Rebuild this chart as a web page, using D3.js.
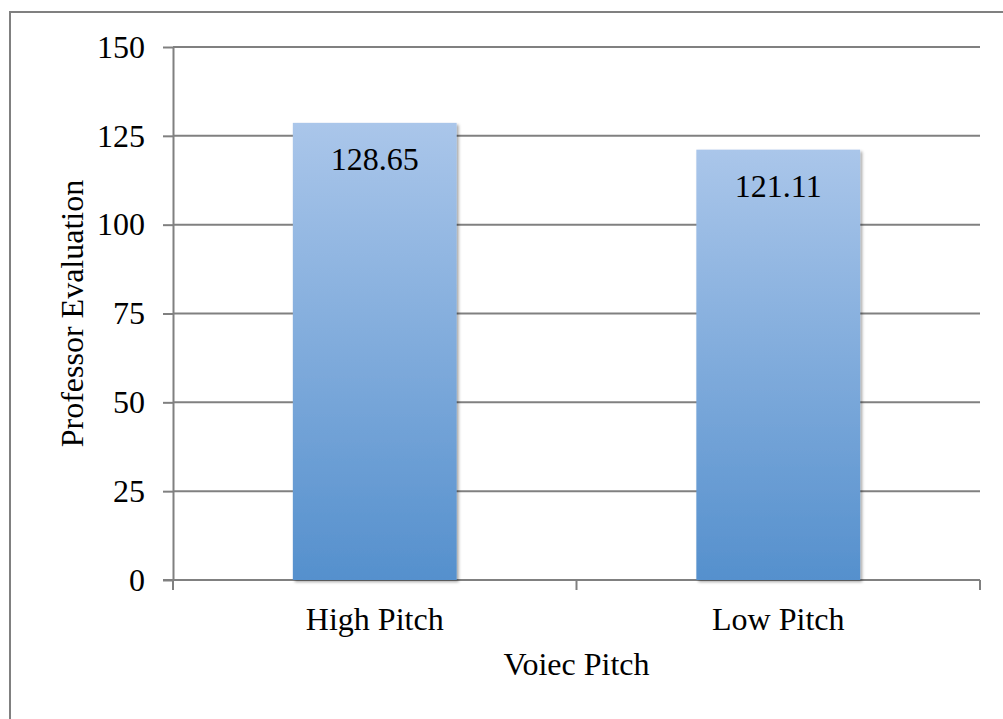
<!DOCTYPE html>
<html>
<head>
<meta charset="utf-8">
<script src="https://cdn.jsdelivr.net/npm/d3@7"></script>
<style>
  html, body { margin: 0; padding: 0; background: #fff; }
  svg { display: block; }
  text { font-family: "Liberation Serif", "Times New Roman", serif; fill: #000; }
</style>
</head>
<body>
<svg id="chart" width="1003" height="719"></svg>
<script>
// Chart data
const categories = ["High Pitch", "Low Pitch"];
const evaluations = [128.65, 121.11];
const tickValues = [0, 25, 50, 75, 100, 125, 150];
const yTitle = "Professor Evaluation";
const xTitle = "Voiec Pitch";

const W = 1003, H = 719;
const plot = { left: 173, right: 980, top: 47, bottom: 580 };
const FONT = 32;

const svg = d3.select("#chart");

// Drop shadow and vertical gradient for the bars
const defs = svg.append("defs");
const grad = defs.append("linearGradient")
  .attr("id", "barFill").attr("x1", 0).attr("y1", 0).attr("x2", 0).attr("y2", 1);
grad.append("stop").attr("offset", "0%").attr("stop-color", "#aac6ea");
grad.append("stop").attr("offset", "100%").attr("stop-color", "#5590cd");

const shadow = defs.append("filter").attr("id", "barShadow")
  .attr("x", "-10%").attr("y", "-10%").attr("width", "130%").attr("height", "130%");
shadow.append("feDropShadow")
  .attr("dx", 2).attr("dy", 2).attr("stdDeviation", 1.8)
  .attr("flood-color", "#000").attr("flood-opacity", 0.35);

// Outer chart frame (runs off the right and bottom of the canvas)
svg.append("rect")
  .attr("x", 10).attr("y", 12)
  .attr("width", W + 20).attr("height", H + 20)
  .attr("fill", "none").attr("stroke", "#808080").attr("stroke-width", 2);

const x = d3.scaleBand()
  .domain(categories)
  .range([plot.left, plot.right])
  .paddingInner(0.594).paddingOuter(0.297);

const y = d3.scaleLinear()
  .domain([0, 150])
  .range([plot.bottom, plot.top]);

// Horizontal gridlines
svg.append("g")
  .selectAll("line")
  .data(tickValues.filter(d => d > 0))
  .join("line")
  .attr("x1", plot.left).attr("x2", plot.right)
  .attr("y1", d => y(d)).attr("y2", d => y(d))
  .attr("stroke", "#808080").attr("stroke-width", 2);

// Y axis
const yAxis = svg.append("g")
  .attr("transform", `translate(${plot.left},0)`)
  .call(d3.axisLeft(y).tickValues(tickValues).tickSize(10).tickPadding(18).tickSizeOuter(0));
yAxis.select(".domain").attr("stroke", "#808080").attr("stroke-width", 2);
yAxis.selectAll(".tick line").attr("stroke", "#808080").attr("stroke-width", 2);
yAxis.selectAll(".tick text")
  .attr("font-family", "Liberation Serif, Times New Roman, serif")
  .attr("font-size", FONT).attr("fill", "#000");

// X axis with tick marks at category boundaries
const xAxisG = svg.append("g").attr("transform", `translate(0,${plot.bottom})`);
xAxisG.append("line")
  .attr("x1", plot.left - 10).attr("x2", plot.right)
  .attr("stroke", "#808080").attr("stroke-width", 2);
const boundaries = [plot.left, (plot.left + plot.right) / 2, plot.right];
xAxisG.selectAll("line.bound")
  .data(boundaries)
  .join("line").attr("class", "bound")
  .attr("x1", d => d).attr("x2", d => d)
  .attr("y1", 0).attr("y2", 10)
  .attr("stroke", "#808080").attr("stroke-width", 2);
xAxisG.selectAll("text.cat")
  .data(categories)
  .join("text").attr("class", "cat")
  .attr("x", d => x(d) + x.bandwidth() / 2)
  .attr("y", 50)
  .attr("text-anchor", "middle")
  .attr("font-size", FONT)
  .text(d => d);

// Bars
const data = categories.map((c, i) => ({ cat: c, v: evaluations[i] }));
svg.append("g")
  .selectAll("rect")
  .data(data)
  .join("rect")
  .attr("x", d => x(d.cat))
  .attr("y", d => y(d.v))
  .attr("width", x.bandwidth())
  .attr("height", d => y(0) - y(d.v))
  .attr("fill", "url(#barFill)")
  .attr("filter", "url(#barShadow)");

// Value labels inside the bar tops
svg.append("g")
  .selectAll("text")
  .data(data)
  .join("text")
  .attr("x", d => x(d.cat) + x.bandwidth() / 2)
  .attr("y", d => y(d.v) + 47)
  .attr("text-anchor", "middle")
  .attr("font-size", FONT)
  .text(d => d.v.toFixed(2));

// Axis titles
svg.append("text")
  .attr("x", (plot.left + plot.right) / 2)
  .attr("y", 675)
  .attr("text-anchor", "middle")
  .attr("font-size", FONT)
  .text(xTitle);

svg.append("text")
  .attr("transform", `translate(83,${(plot.top + plot.bottom) / 2}) rotate(-90)`)
  .attr("text-anchor", "middle")
  .attr("font-size", FONT)
  .text(yTitle);
</script>
</body>
</html>
